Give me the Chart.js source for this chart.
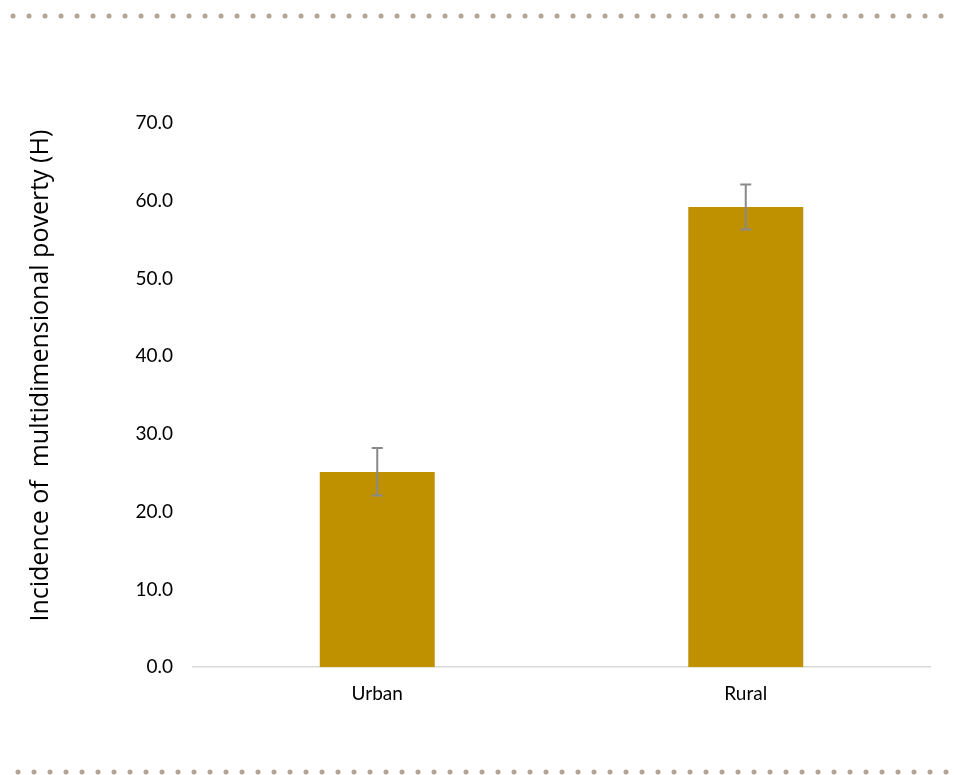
<!DOCTYPE html>
<html>
<head>
<meta charset="utf-8">
<script src="https://cdn.jsdelivr.net/npm/chart.js@4/dist/chart.umd.min.js"></script>
<style>
  html, body { margin: 0; padding: 0; background: #fff; }
  #wrap { width: 954px; height: 775px; position: relative; }
</style>
</head>
<body>
<div id="wrap"><canvas id="chart"></canvas></div>
<script>
const categories = ["Urban", "Rural"];
const incidence = [25.1, 59.2];
const errorUp = [3.1, 2.9];
const errorDown = [3.0, 2.9];

// error bars drawn on top of the bars
const errorBarPlugin = {
    id: "errorBars",
    afterDatasetsDraw(chart) {
        const ctx = chart.ctx;
        const yScale = chart.scales.y;
        const meta = chart.getDatasetMeta(0);
        ctx.save();
        ctx.strokeStyle = "#898989";
        ctx.lineWidth = 2;
        meta.data.forEach((bar, i) => {
            const x = bar.x;
            const top = yScale.getPixelForValue(incidence[i] + errorUp[i]);
            const bottom = yScale.getPixelForValue(incidence[i] - errorDown[i]);
            ctx.beginPath();
            ctx.moveTo(x, top);
            ctx.lineTo(x, bottom);
            ctx.moveTo(x - 5.5, top);
            ctx.lineTo(x + 5.5, top);
            ctx.moveTo(x - 5.5, bottom);
            ctx.lineTo(x + 5.5, bottom);
            ctx.stroke();
        });
        ctx.restore();
    },
};

// dotted rules at top and bottom of the page
const dottedRules = {
    id: "dottedRules",
    beforeDraw(chart) {
        const ctx = chart.ctx;
        ctx.save();
        ctx.strokeStyle = "#b3a493";
        ctx.lineWidth = 5;
        ctx.lineCap = "round";
        ctx.setLineDash([0, 16]);
        ctx.beginPath();
        ctx.moveTo(13, 16);
        ctx.lineTo(chart.width, 16);
        ctx.moveTo(18, 772);
        ctx.lineTo(chart.width, 772);
        ctx.stroke();
        ctx.restore();
    },
};

new Chart(document.getElementById("chart"), {
    type: "bar",
    data: {
        labels: categories,
        datasets: [
            {
                data: incidence,
                backgroundColor: "#bf9000",
                borderWidth: 0,
                barPercentage: 0.52,
                categoryPercentage: 0.6,
            },
        ],
    },
    options: {
        responsive: true,
        maintainAspectRatio: false,
        animation: false,
        layout: {
            padding: { left: 22, right: 24, top: 123, bottom: 55 },
        },
        plugins: {
            legend: { display: false },
            tooltip: { enabled: false },
        },
        scales: {
            x: {
                grid: { display: false, drawTicks: false },
                border: { display: true, color: "#d9d9d9", width: 1.5 },
                ticks: {
                    color: "#000",
                    padding: 15,
                    font: { family: "Lato, 'Open Sans', sans-serif", size: 19 },
                },
            },
            y: {
                min: 0,
                max: 70,
                grid: { display: false, drawTicks: false },
                border: { display: false },
                afterFit: (scale) => { scale.width = 171; },
                ticks: {
                    stepSize: 10,
                    color: "#000",
                    padding: 20,
                    font: { family: "Lato, 'Open Sans', sans-serif", size: 19 },
                    callback: (v) => v.toFixed(1),
                },
                title: {
                    display: true,
                    // leading spaces lift the visible title a little above centre, as in the original
                    text: "      Incidence of  multidimensional poverty (H)",
                    color: "#000",
                    padding: { top: 4, bottom: 4 },
                    font: { family: "'Open Sans', sans-serif", size: 25 },
                },
            },
        },
    },
    plugins: [errorBarPlugin, dottedRules],
});
</script>
</body>
</html>
